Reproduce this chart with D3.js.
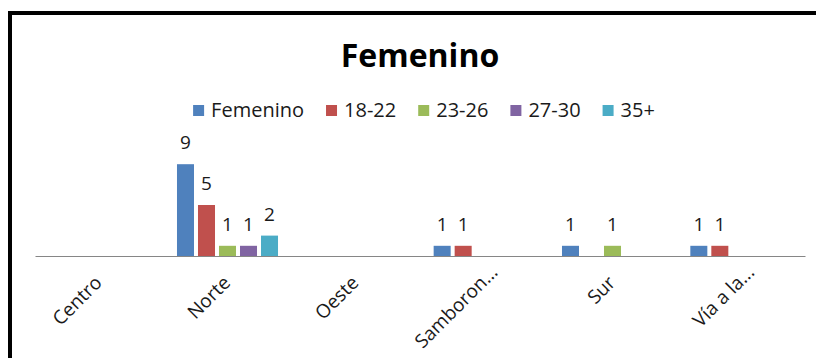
<!DOCTYPE html>
<html>
<head>
<meta charset="utf-8">
<script src="https://cdn.jsdelivr.net/npm/d3@7"></script>
<style>
  html, body { margin: 0; padding: 0; background: #fff; }
  svg { display: block; }
  text { font-family: "Open Sans", "Liberation Sans", sans-serif; fill: #1a1a1a; }
</style>
</head>
<body>
<svg id="chart" width="816" height="358"></svg>
<script>
// Zones of the city and age groups
const categories = ["Centro", "Norte", "Oeste", "Samboron...", "Sur", "Vía a la..."];
const seriesNames = ["Femenino", "18-22", "23-26", "27-30", "35+"];
const colors = ["#4F81BD", "#C0504D", "#9BBB59", "#8064A2", "#4BACC6"];

// Counts per zone (null = no entry)
const femenino = [null, 9, null, 1, 1, 1];
const age18_22 = [null, 5, null, 1, null, 1];
const age23_26 = [null, 1, null, null, 1, null];
const age27_30 = [null, 1, null, null, null, null];
const age35plus = [null, 2, null, null, null, null];

const seriesValues = [femenino, age18_22, age23_26, age27_30, age35plus];

const svg = d3.select("#chart");

// Outer chart frame (thick black border)
svg.append("rect")
  .attr("x", 10).attr("y", 13)
  .attr("width", 900).attr("height", 400)
  .attr("fill", "#fff")
  .attr("stroke", "#000").attr("stroke-width", 4);

const plot = { left: 35, right: 805, base: 256 };

const x = d3.scaleBand().domain(categories).range([plot.left, plot.right]).padding(0);
const xi = d3.scaleBand().domain(seriesNames).range([0, x.bandwidth()])
  .paddingInner(0.19).paddingOuter(0.65);
const y = d3.scaleLinear().domain([0, 10]).range([plot.base, plot.base - 102]);

// Title
svg.append("text")
  .attr("x", (plot.left + plot.right) / 2).attr("y", 67)
  .attr("text-anchor", "middle")
  .style("font-size", "32px").style("font-weight", "bold")
  .style("fill", "#000")
  .text("Femenino");

// Legend, centred above the plot
const legend = svg.append("g");
const items = legend.selectAll("g").data(seriesNames).join("g");
items.append("rect")
  .attr("width", 11).attr("height", 11)
  .attr("y", 105)
  .attr("fill", (d, i) => colors[i]);
items.append("text")
  .attr("x", 18).attr("y", 117)
  .style("font-size", "20px")
  .text(d => d);
let cursor = 0;
const offsets = [];
const itemGap = 22;
items.each(function () {
  offsets.push(cursor);
  const w = d3.select(this).select("text").node().getComputedTextLength();
  cursor += 18 + w + itemGap;
});
const legendWidth = cursor - itemGap;
const legendStart = 424 - legendWidth / 2;
items.attr("transform", (d, i) => `translate(${legendStart + offsets[i]},0)`);

// Bars
const flat = [];
seriesValues.forEach((vals, si) => {
  vals.forEach((v, ci) => {
    if (v != null) flat.push({ s: seriesNames[si], si, c: categories[ci], v });
  });
});

svg.append("g").selectAll("rect").data(flat).join("rect")
  .attr("x", d => x(d.c) + xi(d.s))
  .attr("width", xi.bandwidth())
  .attr("y", d => y(d.v))
  .attr("height", d => y(0) - y(d.v))
  .attr("fill", d => colors[d.si]);

// Value labels
svg.append("g").selectAll("text").data(flat).join("text")
  .attr("x", d => x(d.c) + xi(d.s) + xi.bandwidth() / 2)
  .attr("y", d => y(d.v) - 15)
  .attr("text-anchor", "middle")
  .style("font-size", "19px")
  .text(d => d.v);

// Category axis
const axis = svg.append("g").attr("transform", `translate(0,${plot.base})`)
  .call(d3.axisBottom(x).tickSize(0).tickSizeOuter(0).tickPadding(0));
axis.select(".domain").attr("stroke", "#868686").attr("stroke-width", 1);
axis.selectAll(".tick text")
  .attr("text-anchor", "end")
  .attr("dy", null)
  .attr("y", null)
  .attr("transform", "translate(4,28) rotate(-45)")
  .style("font-size", "19px")
  .style("font-family", "'Open Sans', sans-serif")
  .attr("fill", "#1a1a1a");

// Truncated names: the trailing dots run past the anchor point
axis.selectAll(".tick text").each(function (d) {
  if (d.endsWith("...")) {
    const node = this;
    const n = d.length;
    const dotsW = node.getSubStringLength(n - 3, 3);
    d3.select(node).attr("dx", dotsW);
  }
});
</script>
</body>
</html>
